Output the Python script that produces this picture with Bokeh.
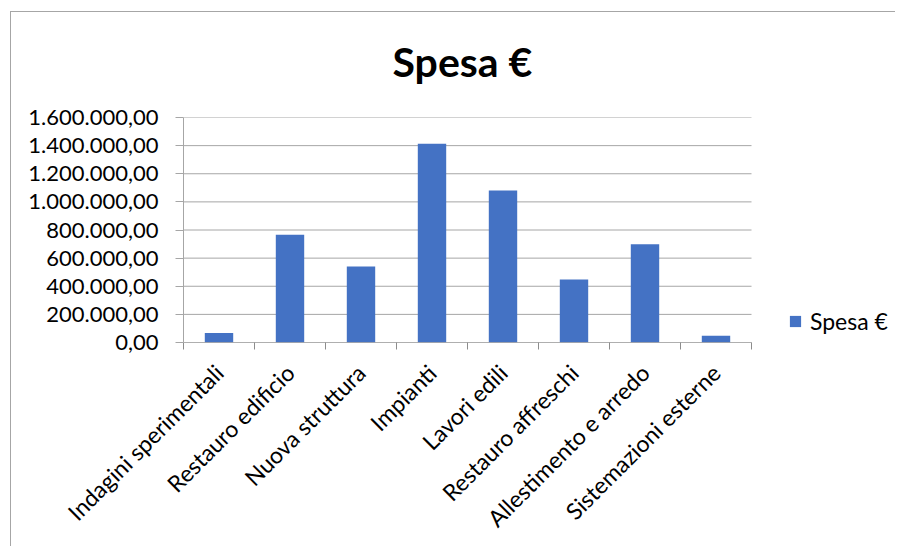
import math
from bokeh.plotting import figure
from bokeh.models import FixedTicker, Legend, LegendItem, Range1d, ColumnDataSource
from bokeh.embed import file_html
from bokeh.resources import INLINE

categories = ["Indagini sperimentali", "Restauro edificio", "Nuova struttura",
              "Impianti", "Lavori edili", "Restauro affreschi",
              "Allestimento e arredo", "Sistemazioni esterne"]
spesa = [68000, 766000, 540000, 1413000, 1081000, 448000, 699000, 48000]
y_ticks = [0, 200000, 400000, 600000, 800000, 1000000, 1200000, 1400000, 1600000]
series_name = "Spesa €"
title_text = "Spesa €"


def it_format(v):
    s = f"{v:,.2f}"
    return s.replace(",", "X").replace(".", ",").replace("X", ".")


n = len(categories)
xs = [i + 0.5 for i in range(n)]
source = ColumnDataSource(dict(x=xs, top=spesa, cat=categories))

FONT = "Lato"
GRAY = "#a6a6a6"
AXIS_GRAY = "#8c8c8c"

# layout (pixels)
W, H = 895, 546
LEFT, TOP = 183, 117
BOTTOM = H - 342
PLOT_W = 568                      # width of the category area
FRAME_W = W - LEFT                # frame extends to the right edge (room for legend)
x_end = n * FRAME_W / PLOT_W

p = figure(width=W, height=H, output_backend="svg", toolbar_location=None,
           x_range=Range1d(0, x_end), y_range=Range1d(0, y_ticks[-1]),
           min_border_left=LEFT, min_border_right=0,
           min_border_top=TOP, min_border_bottom=BOTTOM)
p.outline_line_color = None
p.background_fill_color = "white"
p.border_fill_color = None
# chart-area border (left and top edges) painted behind the transparent canvas border
p.styles = {
    "background": (f"linear-gradient({GRAY},{GRAY}) 10px 11px / 1px 100% no-repeat, "
                   f"linear-gradient({GRAY},{GRAY}) 10px 11px / 100% 1px no-repeat, white"),
}

# horizontal gridlines over the category area only
p.segment(x0=0, x1=n, y0=y_ticks, y1=y_ticks, line_color=GRAY, line_width=1)

r = p.vbar(x="x", top="top", width=0.4, source=source,
           fill_color="#4472C4", line_color=None)

# category axis line
p.segment(x0=[0], x1=[n], y0=[0], y1=[0], line_color=AXIS_GRAY, line_width=1)

# title
p.title.text = title_text
p.title.align = "left"
p.title.offset = 209
p.title.vertical_align = "bottom"
p.title.text_font = FONT
p.title.text_font_style = "bold"
p.title.text_font_size = "41px"
p.title.text_color = "black"
p.title.standoff = 64

# x axis
xa = p.xaxis[0]
xa.ticker = FixedTicker(ticks=xs, minor_ticks=list(range(n + 1)))
xa.major_label_overrides = {x: c for x, c in zip(xs, categories)}
xa.major_label_orientation = math.pi / 4
xa.major_tick_line_color = None
xa.minor_tick_in = 0
xa.minor_tick_out = 7
xa.minor_tick_line_color = AXIS_GRAY
xa.axis_line_color = None
xa.major_label_text_font = FONT
xa.major_label_text_font_size = "23px"
xa.major_label_text_color = "black"
xa.major_label_standoff = 19

# y axis
ya = p.yaxis[0]
ya.ticker = FixedTicker(ticks=y_ticks, minor_ticks=[])
ya.major_label_overrides = {t: it_format(t) for t in y_ticks}
ya.major_tick_in = 0
ya.major_tick_out = 8
ya.major_tick_line_color = GRAY
ya.minor_tick_line_color = None
ya.axis_line_color = GRAY
ya.major_label_text_font = FONT
ya.major_label_text_font_size = "22px"
ya.major_label_text_color = "black"
ya.major_label_standoff = 17

p.xgrid.visible = False
p.ygrid.visible = False

# legend
legend = Legend(items=[LegendItem(label=series_name, renderers=[r])],
                location=(605, 7), orientation="vertical",
                glyph_width=14, glyph_height=14, label_standoff=8,
                padding=0, margin=0, spacing=0,
                border_line_color=None, background_fill_alpha=0,
                label_text_font=FONT, label_text_font_size="23px",
                label_text_color="black")
p.add_layout(legend)

open("out.html", "w").write(file_html(p, INLINE))
